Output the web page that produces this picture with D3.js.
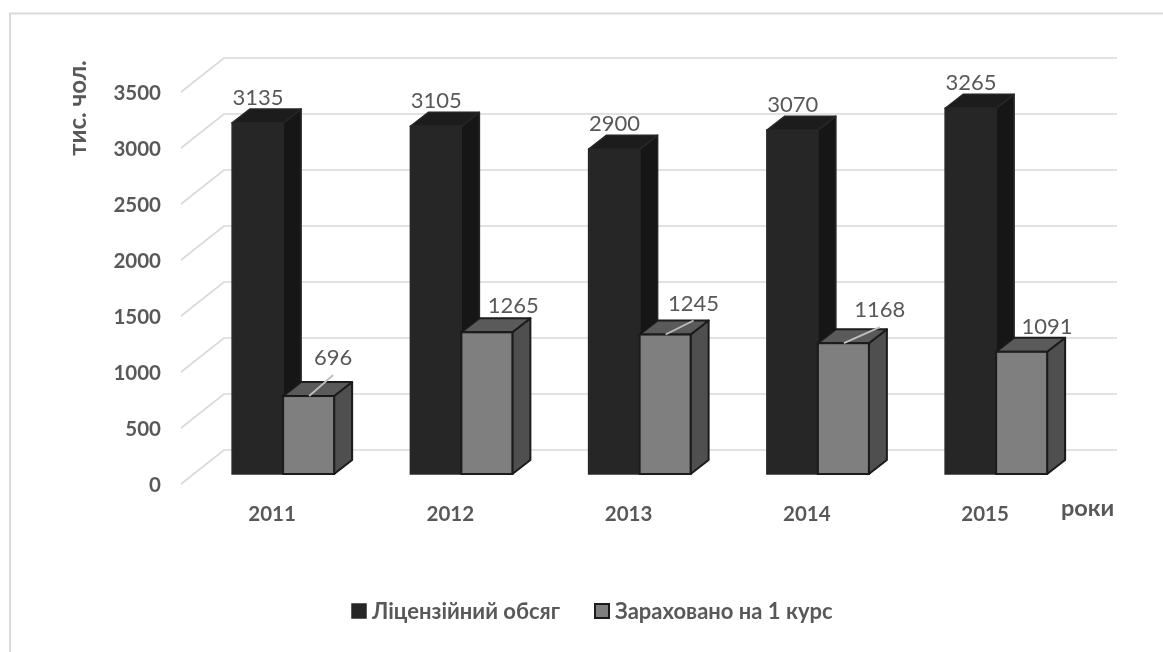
<!DOCTYPE html>
<html>
<head>
<meta charset="utf-8">
<script src="https://cdn.jsdelivr.net/npm/d3@7"></script>
<style>
  html, body { margin: 0; padding: 0; background: #fff; }
  svg { display: block; }
</style>
</head>
<body>
<svg id="chart" width="1163" height="652"></svg>
<script>
const years = ["2011", "2012", "2013", "2014", "2015"];
const licensed = [3135, 3105, 2900, 3070, 3265];
const enrolled = [696, 1265, 1245, 1168, 1091];
const yTicks = [0, 500, 1000, 1500, 2000, 2500, 3000, 3500];
const seriesNames = ["Ліцензійний обсяг", "Зараховано на 1 курс"];
const hasLeader = [true, false, true, true, false];

const seriesColors = [
  { front: "#262626", top: "#1c1c1c", side: "#191919", stroke: "#262626", width: 1.5 },
  { front: "#7f7f7f", top: "#5a5a5a", side: "#505050", stroke: "#1a1a1a", width: 2 }
];
// the labels of the second series were dragged by hand in the original
const enrolledDx = [101, 103, 105, 113, 102];
const enrolledDy = [-31, -19, -24, -26, -18];

const width = 1163, height = 652;
const font = "Lato, 'Open Sans', sans-serif";
const textColor = "#595959";

// front plane of the columns, the wall sits further back
const baseY = 474, depthX = 18, depthY = 14;
const wallDx = 43, wallDy = -34;
const gridLeft = 181, gridRight = 1117;

const svg = d3.select("#chart");

// the reference is a soft screenshot
const soft = svg.append("defs").append("filter").attr("id", "soft");
soft.append("feGaussianBlur").attr("stdDeviation", 0.4);
const root = svg.append("g").attr("filter", "url(#soft)");

// frame
root.append("path")
  .attr("d", "M10," + height + "V13.5H" + width)
  .attr("fill", "none")
  .attr("stroke", "#d9d9d9")
  .attr("stroke-width", 2);

const y = d3.scaleLinear().domain([0, 3500]).range([baseY, baseY - 392]);
const x0 = d3.scaleBand().domain(years).range([194, 1085.25]).paddingInner(0.4278).paddingOuter(0.2139);
const x1 = d3.scaleBand().domain(d3.range(2)).range([0, x0.bandwidth()]);

// gridlines: slanted side wall and back wall
const grid = root.append("g").attr("fill", "none").attr("stroke", "#d9d9d9").attr("stroke-width", 1.7);
grid.selectAll("path")
  .data(yTicks)
  .enter()
  .append("path")
  .attr("d", d => {
    const py = y(d) + 10;
    return "M" + gridLeft + "," + py + "L" + (gridLeft + wallDx) + "," + (py + wallDy) + "H" + gridRight;
  });

// y axis labels
root.append("g")
  .attr("transform", "translate(170,11)")
  .call(d3.axisLeft(y).tickValues(yTicks).tickSize(0).tickPadding(9).tickFormat(d3.format("d")))
  .call(g => g.select(".domain").remove())
  .call(g => g.selectAll("text")
    .attr("fill", textColor)
    .style("font-family", font)
    .style("font-size", "20.5px")
    .style("font-weight", "700"));

// x axis labels
root.append("g")
  .attr("transform", "translate(-11,514)")
  .call(d3.axisBottom(x0).tickSize(0).tickPadding(0))
  .call(g => g.select(".domain").remove())
  .call(g => g.selectAll("text")
    .attr("dy", "0.35em")
    .attr("fill", textColor)
    .style("font-family", font)
    .style("font-size", "20.5px")
    .style("font-weight", "700"));

// axis titles
root.append("text")
  .attr("transform", "translate(86,108) rotate(-90)")
  .attr("text-anchor", "middle")
  .attr("fill", textColor)
  .style("font-family", font)
  .style("font-size", "24px")
  .style("font-weight", "700")
  .text("тис. чол.");

root.append("text")
  .attr("x", 1061)
  .attr("y", 516)
  .attr("fill", textColor)
  .style("font-family", font)
  .style("font-size", "23.5px")
  .style("font-weight", "700")
  .text("роки");

// draw one 3d column
function column(g, xp, w, v, c) {
  const top = y(v);
  g.append("path")
    .attr("d", "M" + (xp + w) + "," + baseY + "l" + depthX + "," + (-depthY) + "V" + (top - depthY) + "l" + (-depthX) + "," + depthY + "Z")
    .attr("fill", c.side)
    .attr("stroke", c.stroke)
    .attr("stroke-width", c.width)
    .attr("stroke-linejoin", "round");
  g.append("path")
    .attr("d", "M" + xp + "," + top + "l" + depthX + "," + (-depthY) + "h" + w + "l" + (-depthX) + "," + depthY + "Z")
    .attr("fill", c.top)
    .attr("stroke", c.stroke)
    .attr("stroke-width", c.width)
    .attr("stroke-linejoin", "round");
  g.append("rect")
    .attr("x", xp)
    .attr("y", top)
    .attr("width", w)
    .attr("height", baseY - top)
    .attr("fill", c.front)
    .attr("stroke", c.stroke)
    .attr("stroke-width", c.width);
}

const bars = root.append("g");
years.forEach((yr, i) => {
  column(bars, x0(yr) + x1(0), x1.bandwidth(), licensed[i], seriesColors[0]);
  column(bars, x0(yr) + x1(1), x1.bandwidth(), enrolled[i], seriesColors[1]);
});

// data labels
function addLabels(values, dx, dy) {
  root.append("g").selectAll("text")
    .data(values)
    .enter()
    .append("text")
    .attr("x", (d, i) => x0(years[i]) + dx[i])
    .attr("y", (d, i) => y(d) + dy[i])
    .attr("text-anchor", "middle")
    .attr("fill", textColor)
    .style("font-family", font)
    .style("font-size", "22px")
    .text(d => d);
}
addLabels(licensed, licensed.map(() => 26), licensed.map(() => -18));
addLabels(enrolled, enrolledDx, enrolledDy);

// leader lines run from the top of the column up to the moved label
root.append("g").selectAll("line")
  .data(years.map((yr, i) => i).filter(i => hasLeader[i]))
  .enter()
  .append("line")
  .attr("x1", i => x0(years[i]) + x1(1) + 26)
  .attr("y1", i => y(enrolled[i]))
  .attr("x2", i => x0(years[i]) + enrolledDx[i])
  .attr("y2", i => y(enrolled[i]) + enrolledDy[i] + 10)
  .attr("stroke", "#bfbfbf")
  .attr("stroke-width", 1.8);

// legend
const legend = root.append("g").attr("transform", "translate(0,611)");
const legendX = [352, 595];
const legendText = [372, 615];
seriesNames.forEach((name, i) => {
  legend.append("rect")
    .attr("x", legendX[i])
    .attr("y", -7)
    .attr("width", 14)
    .attr("height", 14)
    .attr("fill", seriesColors[i].front)
    .attr("stroke", seriesColors[i].stroke)
    .attr("stroke-width", seriesColors[i].width);
  legend.append("text")
    .attr("x", legendText[i])
    .attr("y", 8)
    .attr("fill", textColor)
    .style("font-family", font)
    .style("font-size", "22px")
    .style("font-weight", "700")
    .text(name);
});
</script>
</body>
</html>
